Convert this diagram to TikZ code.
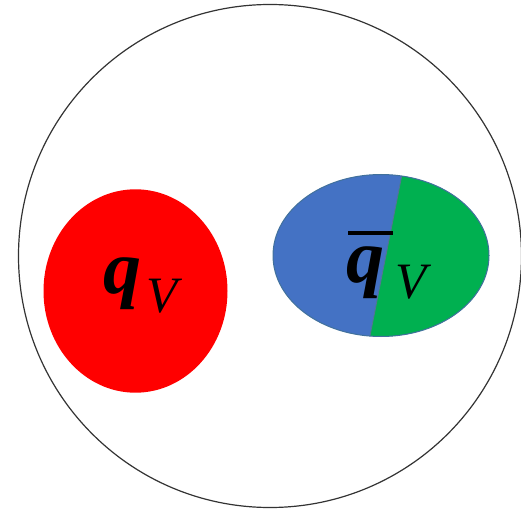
\documentclass[tikz,border=0pt]{standalone}
\usepackage{fontspec}
\setmainfont{Liberation Serif}
\definecolor{qred}{HTML}{FF0000}
\definecolor{qblue}{HTML}{4472C4}
\definecolor{qgreen}{HTML}{00B050}
\definecolor{qedge}{HTML}{41719C}
\tikzset{
  bigq/.style={inner sep=0pt, anchor=base west, font=\fontsize{76}{76}\selectfont\bfseries\itshape},
  subv/.style={inner sep=0pt, anchor=base west, font=\fontsize{51}{51}\selectfont\itshape}
}
\begin{document}
\begin{tikzpicture}[x=1pt,y=-1pt]
\useasboundingbox (0,0) rectangle (521,510);
% outer circle
\draw[line width=1.2pt, black!80] (270,256) circle[radius=251.5];
% red quark
\fill[qred] (135.5,291) ellipse[x radius=92, y radius=101.7];
% antiquark
\begin{scope}
  \clip (381,255.5) ellipse[x radius=108, y radius=81];
  \fill[qblue] (270,170) rectangle (495,342);
  \fill[qgreen] (402.9,170) -- (368.8,342) -- (495,342) -- (495,170) -- cycle;
  \draw[line width=0.8pt, qedge!70!gray] (402.9,170) -- (368.8,342);
\end{scope}
\draw[line width=1pt, qedge] (381,255.5) ellipse[x radius=108, y radius=81];
% labels
\node[bigq] (q1) at (103,293) {q};
\node[subv] (v1) at (146,312) {V};
\node[bigq] (q2) at (346,282) {q};
\node[subv] (v2) at (395,298) {V};
\draw[line width=4pt] (348,233) -- (393,233);
\end{tikzpicture}
\end{document}
